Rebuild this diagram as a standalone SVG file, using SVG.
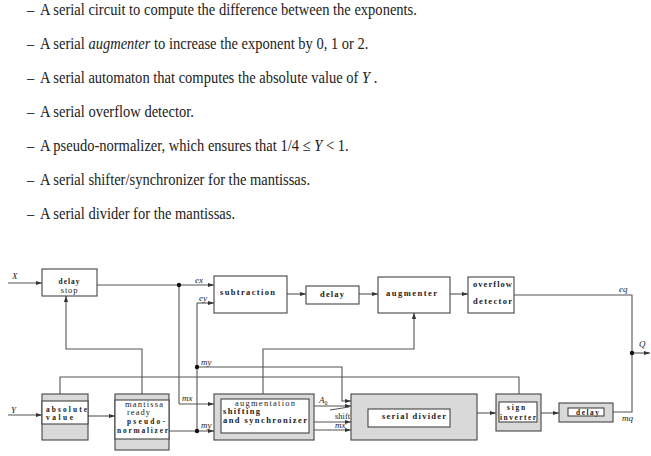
<svg xmlns="http://www.w3.org/2000/svg" width="651" height="456" viewBox="0 0 651 456">
<style>
.body{font-family:"Liberation Serif","DejaVu Serif",serif;font-size:16.5px;fill:#222}
.it{font-style:italic}
.bx{fill:#fff;stroke:#444;stroke-width:1.1}
.gx{fill:#d9d9d9;stroke:#444;stroke-width:1.1}
.lbl{font-family:"Liberation Serif","DejaVu Serif",serif;font-size:8.5px;font-weight:bold;fill:#222}
.sm{font-size:7.4px}
.xs{font-size:7px}
.var{font-family:"Liberation Serif","DejaVu Serif",serif;font-size:9px;font-style:italic;fill:#222}
.rm{font-family:"Liberation Serif","DejaVu Serif",serif;font-size:8.5px;fill:#222}
.wire{fill:none;stroke:#555;stroke-width:1.1}
.arr{fill:none;stroke:#555;stroke-width:1.1;marker-end:url(#ah)}
</style>
<defs>
<marker id="ah" viewBox="0 0 10 10" refX="10" refY="5" markerWidth="6" markerHeight="6" orient="auto" markerUnits="userSpaceOnUse">
<path d="M0,1.5 L10,5 L0,8.5 z" fill="#333"/>
</marker>
</defs>
<rect width="651" height="456" fill="#fff"/>
<g id="text-list" transform="scale(0.88,1)">
<text class="body" x="30.7" y="15">–</text>
<text class="body" x="45.5" y="15">A serial circuit to compute the difference between the exponents.</text>
<text class="body" x="30.7" y="49">–</text>
<text class="body" x="45.5" y="49">A serial <tspan class="it">augmenter</tspan> to increase the exponent by 0, 1 or 2.</text>
<text class="body" x="30.7" y="83">–</text>
<text class="body" x="45.5" y="83">A serial automaton that computes the absolute value of <tspan class="it">Y</tspan> .</text>
<text class="body" x="30.7" y="117">–</text>
<text class="body" x="45.5" y="117">A serial overflow detector.</text>
<text class="body" x="30.7" y="151">–</text>
<text class="body" x="45.5" y="151">A pseudo-normalizer, which ensures that 1/4 ≤ <tspan class="it">Y</tspan> &lt; 1.</text>
<text class="body" x="30.7" y="185">–</text>
<text class="body" x="45.5" y="185">A serial shifter/synchronizer for the mantissas.</text>
<text class="body" x="30.7" y="219">–</text>
<text class="body" x="45.5" y="219">A serial divider for the mantissas.</text>
</g>
<g id="connectors">
<path class="arr" d="M8,283 H42"/>
<path class="arr" d="M97,285 H214"/>
<path class="wire" d="M179,285 V404"/>
<path class="arr" d="M179,404 H214"/>
<path class="arr" d="M197,303 H214"/>
<path class="wire" d="M197,303 V431"/>
<path class="arr" d="M287,294 H306"/>
<path class="arr" d="M359,294 H378"/>
<path class="arr" d="M450,294 H468"/>
<path class="wire" d="M514,295 H632 V412 H613"/>
<path class="arr" d="M632,353 H650"/>
<path class="arr" d="M8,415 H42"/>
<path class="arr" d="M88,416 H115"/>
<path class="arr" d="M142,394 V349 H66 V296"/>
<path class="arr" d="M169,431 H214"/>
<path class="arr" d="M197,367 H342 V401 H351"/>
<path class="arr" d="M60,394 V377 H519 V402"/>
<path class="arr" d="M263,394 V349 H414 V313"/>
<path class="arr" d="M314,406 H351"/>
<path class="wire" d="M330,410 L349,407"/>
<path class="arr" d="M314,422 H351"/>
<path class="arr" d="M314,430 H351"/>
<path class="arr" d="M477,413 H496"/>
<path class="arr" d="M541,413 H559"/>
<circle cx="179" cy="285" r="2.2" fill="#111"/>
<circle cx="197" cy="367" r="2.2" fill="#111"/>
<circle cx="197" cy="431" r="2.2" fill="#111"/>
<circle cx="632" cy="353" r="2.2" fill="#111"/>
<text class="var" x="12" y="279">X</text>
<text class="var" x="11" y="413">Y</text>
<text class="var" x="195" y="283">ex</text>
<text class="var" x="199" y="301">ey</text>
<text class="var" x="201" y="365">my</text>
<text class="var" x="182" y="401">mx</text>
<text class="var" x="201" y="428">my</text>
<text class="var" x="319" y="403">A<tspan font-size="6" dy="2" font-style="normal">0</tspan></text>
<text class="rm" x="335" y="419">shift</text>
<text class="var" x="335" y="428">mx</text>
<text class="var" x="619" y="292">eq</text>
<text class="var" x="639" y="347">Q</text>
<text class="var" x="622" y="421">mq</text>
</g>
<g id="delay-stop">
<rect class="bx" x="42" y="269" width="55" height="27"/>
<text class="lbl sm" x="69.5" y="283.5" text-anchor="middle" letter-spacing="1">delay</text>
<text class="rm sm" x="69.5" y="293" text-anchor="middle" letter-spacing="0.8">stop</text>
</g>
<g id="subtraction">
<rect class="bx" x="214" y="276" width="73" height="37"/>
<text class="lbl" x="220" y="295" textLength="55" lengthAdjust="spacing">subtraction</text>
</g>
<g id="delay-top">
<rect class="bx" x="306" y="286" width="53" height="18"/>
<text class="lbl" x="320" y="297" textLength="24" lengthAdjust="spacing">delay</text>
</g>
<g id="augmenter">
<rect class="bx" x="378" y="277" width="72" height="36"/>
<text class="lbl" x="386" y="296" textLength="51" lengthAdjust="spacing">augmenter</text>
</g>
<g id="overflow-detector">
<rect class="bx" x="468" y="277" width="46" height="36"/>
<text class="lbl" x="473" y="287" textLength="39" lengthAdjust="spacing">overflow</text>
<text class="lbl" x="473" y="304" textLength="39" lengthAdjust="spacing">detector</text>
</g>
<g id="absolute-value">
<rect class="gx" x="42" y="394" width="46" height="46"/>
<rect x="42" y="401" width="46" height="23" fill="#fff" stroke="#444" stroke-width="1.1"/>
<text class="lbl sm" x="46" y="411.5" textLength="41" lengthAdjust="spacing">absolute</text>
<text class="lbl sm" x="46" y="420" textLength="27" lengthAdjust="spacing">value</text>
</g>
<g id="pseudo-normalizer">
<rect class="gx" x="115" y="394" width="54" height="56"/>
<rect x="115" y="400" width="54" height="39" fill="#fff" stroke="#444" stroke-width="1.1"/>
<text class="rm xs" x="125" y="406.5" textLength="38" lengthAdjust="spacing">mantissa</text>
<text class="rm xs" x="127" y="415" textLength="23" lengthAdjust="spacing">ready</text>
<text class="lbl sm" x="127" y="424" textLength="38" lengthAdjust="spacing">pseudo-</text>
<text class="lbl sm" x="117" y="432.5" textLength="51" lengthAdjust="spacing">normalizer</text>
</g>
<g id="shifting-synchronizer">
<rect class="gx" x="214" y="394" width="100" height="46"/>
<rect class="bx" x="221" y="399" width="88" height="34"/>
<text class="rm sm" x="235" y="405.5" textLength="60" lengthAdjust="spacing">augmentation</text>
<text class="lbl" x="223" y="414" textLength="37" lengthAdjust="spacing">shifting</text>
<text class="lbl" x="223" y="422.5" textLength="84" lengthAdjust="spacing">and synchronizer</text>
</g>
<g id="serial-divider">
<rect class="gx" x="351" y="394" width="126" height="46"/>
<rect class="bx" x="368" y="409" width="82" height="18"/>
<text class="lbl" x="382" y="419" textLength="64" lengthAdjust="spacing">serial divider</text>
</g>
<g id="sign-inverter">
<rect class="gx" x="496" y="394" width="45" height="37"/>
<rect class="bx" x="499" y="402" width="38" height="20"/>
<text class="lbl sm" x="507" y="410" textLength="18" lengthAdjust="spacing">sign</text>
<text class="lbl sm" x="500" y="419.5" textLength="36" lengthAdjust="spacing">inverter</text>
</g>
<g id="delay-bottom">
<rect class="gx" x="559" y="403" width="54" height="19"/>
<rect class="bx" x="568" y="408" width="36" height="8"/>
<text class="lbl sm" x="576" y="415" textLength="23" lengthAdjust="spacing">delay</text>
</g>
</svg>
